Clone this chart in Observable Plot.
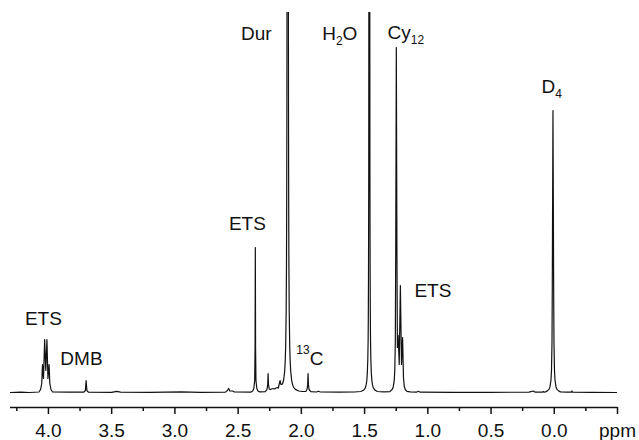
<!DOCTYPE html>
<html><head><meta charset="utf-8">
<script src="https://cdn.jsdelivr.net/npm/d3@7"></script>
<script src="https://cdn.jsdelivr.net/npm/@observablehq/plot@0.6"></script>
<style>body{margin:0;background:#fff} svg{display:block}</style>
</head><body><div id="chart"></div>
<script>
// chemical shift (ppm) and intensity (a.u.)
const shift = [4.30,4.22,4.15,4.075,4.062,4.053,4.047,4.039,4.030,4.021,4.012,4.004,3.995,3.989,3.980,3.967,3.85,
3.72,3.708,3.702,3.696,3.684,3.50,3.46,3.43,3.20,2.95,2.80,2.60,2.585,2.575,2.565,2.545,2.53,
2.40,2.385,2.376,2.369,2.366,2.364,2.362,2.359,2.352,2.343,2.33,
2.285,2.272,2.266,2.263,2.260,2.254,2.245,2.225,2.21,2.200,2.190,2.182,2.174,2.168,2.162,2.155,2.148,2.140,2.132,2.128,2.124,2.120,2.1175,2.116,2.1143,2.1127,2.108,
2.1033,2.1017,2.100,2.0985,2.096,2.092,2.088,2.084,2.076,2.068,2.061,2.045,2.02,1.99,
1.965,1.955,1.950,1.947,1.944,1.939,1.925,1.88,1.866,1.85,1.70,1.58,
1.53,1.509,1.494,1.4865,1.4825,1.4785,1.4745,1.472,1.4705,1.469,1.4672,1.4657,1.4625,
1.4593,1.4578,1.456,1.4545,1.453,1.4505,1.4465,1.4425,1.4385,1.431,1.416,1.40,1.35,
1.30,1.296,1.281,1.273,1.265,1.261,1.257,1.2537,1.249,1.2443,1.2405,1.2345,1.226,1.217,1.208,1.1995,1.1925,1.186,1.178,1.165,1.14,
1.09,1.075,1.06,0.80,0.50,0.20,0.166,0.15,0.095,0.087,0.08,
0.07,0.057,0.042,0.034,0.026,0.022,0.018,0.0158,0.0103,0.0048,0.0023,-0.0017,-0.0057,-0.0137,-0.0217,-0.037,-0.05,
-0.10,-0.135,-0.14,-0.145,-0.30,-0.50];
const intensity = [0,0.4,0,0.5,3,9,28,14,53,22,53,14,28,9,3,0.5,0.3,
0.3,2,12,2,0.3,0.2,1.2,0.3,0.2,0.6,0.2,0.4,2,4,1.5,1.5,0.5,
0.3,1.5,4,12,45,145,45,12,4,1.5,0.6,
0.8,3,8,19,8,3.5,3,4,3.5,4.5,5,4.5,9,12,8,8,9,12.5,21,30,46,82,128,185,289,514,700,
514,289,185,128,82,46,30,21,11.6,7.4,5.1,2.9,1.5,1.0,
1,3,8,19,8,3,0.8,0.5,1.2,0.5,0.4,0.5,
1,2.2,4.7,8.3,12,19,33,52,75,117,208,470,800,
470,208,117,75,52,33,19,12,8.3,4.7,2.2,1.0,0.6,
0.8,1.4,3.2,5.7,12.8,23,51,142,345,142,45,57,28,107,28,55,15,6,3,1.2,0.6,
0.3,1.2,0.3,0.2,0.2,0.3,1.5,0.3,0.3,1.0,0.3,
0.6,1.4,3.1,5.6,12.5,22,50,102,282,102,50,22,12.5,5.6,3.1,1.4,0.6,
0.3,0.3,1.5,0.3,0.2,0];

// peak labels
const labelText = ["ETS","DMB","ETS","Dur","\u00B9\u00B3C","H\u2082O","Cy\u2081\u2082","ETS","D\u2084"];
const labelShift = [4.040,3.739,2.427,2.356,1.933,1.696,1.174,0.960,0.020];
const labelIntensity = [73.5,33.5,168.5,358.5,33.5,358.5,360,102,305.5];

// axis ticks
const majorTicks = [4.0,3.5,3.0,2.5,2.0,1.5,1.0,0.5,0.0,-0.5];
const tickLabels = ["4.0","3.5","3.0","2.5","2.0","1.5","1.0","0.5","0.0","ppm"];
const minorTicks = [4.25,3.75,3.25,2.75,2.25,1.75,1.25,0.75,0.25,-0.25];

const points = shift.map((s, i) => ({shift: s, intensity: intensity[i]}));
const labels = labelText.map((t, i) => ({text: t, shift: labelShift[i], intensity: labelIntensity[i]}));

const chart = Plot.plot({
  width: 639,
  height: 440,
  marginTop: 12,
  marginBottom: 33,
  marginLeft: 10,
  marginRight: 22,
  style: {fontFamily: "'Liberation Sans', Arial, sans-serif", fontSize: "19px", color: "#111", background: "#fff"},
  x: {domain: [4.3, -0.5], label: null},
  y: {domain: [-15, 380], axis: null},
  marks: [
    Plot.ruleY([-15], {stroke: "#111", strokeWidth: 1.5}),
    Plot.axisX(majorTicks, {tickSize: 7, tickPadding: 9, strokeWidth: 1.5, fontSize: 19,
      tickFormat: d => tickLabels[majorTicks.indexOf(d)], label: null}),
    Plot.axisX(minorTicks, {tickSize: 4, strokeWidth: 1.5, tickFormat: () => "", label: null}),
    Plot.line(points, {x: "shift", y: "intensity", stroke: "#111", strokeWidth: 1.2, clip: true}),
    Plot.text(labels, {x: "shift", y: "intensity", text: "text", fontSize: 19, fill: "#111", className: "peaklabel"})
  ]
});

// render sub/superscript characters as smaller, shifted tspans (text stays real text)
const sub = {"\u2080":"0","\u2081":"1","\u2082":"2","\u2083":"3","\u2084":"4","\u2085":"5","\u2086":"6","\u2087":"7","\u2088":"8","\u2089":"9"};
const sup = {"\u00B9":"1","\u00B2":"2","\u00B3":"3","\u2070":"0","\u2074":"4"};
chart.querySelectorAll("g.peaklabel text, g[aria-label='text'] text").forEach(t => {
  const s = t.textContent;
  if (![...s].some(c => sub[c] || sup[c])) return;
  t.textContent = "";
  const runs = [];
  for (const c of s) {
    const kind = sub[c] ? "sub" : sup[c] ? "sup" : "n";
    const ch = sub[c] || sup[c] || c;
    if (runs.length && runs[runs.length - 1].kind === kind) runs[runs.length - 1].text += ch;
    else runs.push({kind, text: ch});
  }
  let offset = 0;
  for (const r of runs) {
    const ts = document.createElementNS("http://www.w3.org/2000/svg", "tspan");
    const target = r.kind === "sub" ? 5 : r.kind === "sup" ? -11 : 0;
    ts.setAttribute("dy", target - offset);
    offset = target;
    if (r.kind !== "n") ts.setAttribute("font-size", "12");
    ts.textContent = r.text;
    t.appendChild(ts);
  }
});
document.getElementById("chart").appendChild(chart);
</script>
</body></html>
